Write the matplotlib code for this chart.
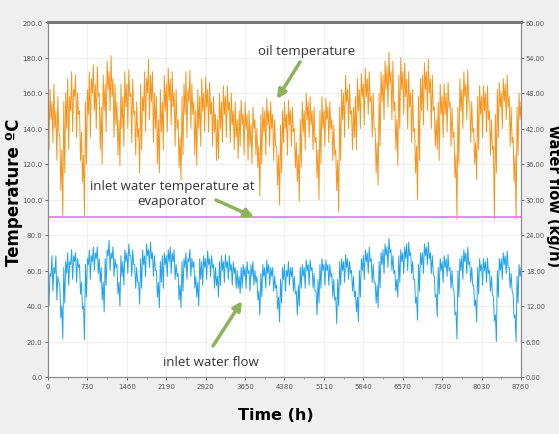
import numpy as np
import matplotlib
matplotlib.use("Agg")
import matplotlib.pyplot as plt
from matplotlib.ticker import MultipleLocator, FormatStrFormatter

# the hourly traces are read as a band: top (hi) and bottom (lo)
# of the trace, one pair every 36.5 h from 0 to 8760 h
step_h = 36.5

oil_hi = [
    150, 162, 155, 165, 150, 158, 135, 128, 155, 160,
    168, 158, 172, 162, 170, 160, 150, 138, 125, 155,
    162, 172, 168, 176, 165, 175, 160, 152, 170, 165,
    178, 172, 181, 168, 165, 155, 145, 165, 158, 172,
    165, 173, 160, 168, 150, 155, 140, 165, 158, 172,
    168, 179, 170, 172, 160, 158, 145, 162, 155, 170,
    165, 174, 168, 172, 160, 162, 145, 135, 158, 165,
    172, 162, 173, 165, 155, 150, 162, 158, 168, 160,
    169, 162, 166, 155, 158, 148, 145, 160, 155, 164,
    158, 164, 155, 160, 150, 155, 145, 150, 156, 148,
    155, 148, 150, 142, 152, 145, 140, 130, 148, 152,
    150, 157, 150, 155, 148, 145, 130, 125, 142, 150,
    155, 148, 156, 150, 152, 140, 132, 125, 145, 155,
    150, 160, 155, 158, 150, 152, 135, 128, 150, 158,
    150, 157, 152, 155, 145, 142, 128, 122, 152, 162,
    160, 170, 162, 165, 150, 152, 158, 168, 162, 171,
    165, 174, 168, 172, 158, 160, 140, 132, 160, 172,
    170, 178, 175, 183, 172, 178, 155, 145, 170, 180,
    172, 177, 168, 172, 160, 162, 140, 130, 158, 168,
    170, 177, 172, 179, 168, 170, 152, 145, 155, 165,
    158, 165, 160, 166, 155, 152, 138, 125, 152, 168,
    162, 172, 165, 173, 155, 155, 140, 132, 158, 164,
    158, 164, 160, 164, 150, 145, 130, 148, 162, 166,
    160, 168, 165, 170, 158, 152, 135, 125, 152, 160,
    155,
]

oil_lo = [
    128, 145, 132, 140, 122, 138, 105, 91, 115, 140,
    128, 150, 138, 158, 135, 148, 122, 110, 91, 120,
    148, 135, 160, 150, 140, 158, 128, 120, 150, 138,
    162, 150, 158, 135, 142, 125, 119, 140, 130, 152,
    140, 158, 132, 148, 125, 135, 115, 128, 150, 138,
    160, 145, 155, 132, 140, 120, 115, 138, 128, 150,
    138, 156, 142, 152, 130, 140, 118, 111, 125, 148,
    135, 155, 140, 148, 125, 119, 140, 130, 150, 138,
    152, 138, 148, 130, 138, 122, 123, 140, 132, 148,
    135, 150, 132, 142, 128, 135, 123, 130, 142, 125,
    140, 122, 130, 120, 140, 125, 118, 102, 120, 138,
    125, 142, 130, 140, 122, 130, 108, 97, 115, 132,
    140, 125, 142, 130, 138, 118, 110, 99, 118, 138,
    128, 145, 135, 142, 128, 132, 112, 100, 120, 140,
    130, 145, 132, 140, 122, 125, 105, 93, 122, 145,
    135, 155, 140, 148, 128, 135, 128, 150, 140, 158,
    142, 158, 148, 155, 135, 140, 115, 108, 130, 155,
    145, 162, 152, 165, 145, 150, 128, 119, 140, 162,
    148, 158, 140, 152, 132, 138, 115, 100, 122, 150,
    142, 162, 150, 160, 140, 150, 130, 128, 122, 148,
    135, 148, 138, 152, 130, 135, 112, 89, 120, 150,
    140, 158, 145, 155, 132, 138, 120, 111, 128, 148,
    135, 150, 138, 145, 125, 128, 89, 115, 135, 152,
    140, 155, 145, 152, 130, 132, 110, 89, 125, 145,
    135,
]

flow_hi = [
    19.5, 17.5, 20.5, 18.5, 20.5, 17.0, 15.5, 12.0, 18.5, 19.5,
    21.0, 19.5, 21.5, 20.5, 21.0, 20.0, 19.0, 16.0, 12.0, 19.0,
    20.0, 21.5, 20.5, 22.0, 21.0, 22.0, 20.0, 18.5, 16.0, 20.0,
    21.5, 23.1, 21.0, 22.0, 20.0, 19.0, 16.0, 20.5, 19.5, 21.5,
    21.0, 22.5, 20.5, 21.5, 19.0, 18.5, 16.0, 20.0, 21.5, 20.5,
    22.5, 21.5, 22.8, 21.0, 20.5, 18.0, 16.0, 19.5, 20.5, 21.0,
    20.5, 21.5, 22.0, 21.0, 21.5, 19.0, 17.5, 15.5, 19.5, 20.0,
    21.0, 20.0, 21.6, 20.0, 19.5, 17.0, 16.0, 20.0, 19.5, 20.5,
    20.0, 21.3, 20.0, 20.5, 19.0, 18.5, 17.0, 19.5, 20.5, 19.5,
    20.7, 19.5, 20.5, 19.0, 19.5, 18.5, 18.0, 17.0, 18.5, 19.0,
    18.5, 19.5, 18.0, 19.0, 19.5, 18.0, 17.0, 14.5, 17.5, 19.0,
    18.5, 19.8, 19.0, 18.5, 18.5, 17.0, 15.5, 13.5, 16.5, 18.5,
    19.0, 18.0, 19.5, 18.5, 18.5, 17.0, 14.5, 15.5, 18.5, 19.0,
    18.5, 19.8, 19.0, 19.8, 18.5, 17.5, 14.5, 16.5, 19.0, 20.0,
    19.0, 19.8, 19.0, 19.0, 17.5, 16.5, 13.5, 16.5, 19.5, 20.0,
    19.5, 20.7, 20.0, 19.5, 18.0, 17.0, 14.5, 13.5, 18.0, 20.0,
    20.5, 21.5, 21.0, 21.9, 20.0, 19.0, 16.0, 15.5, 19.5, 21.0,
    21.5, 22.5, 22.0, 23.4, 21.5, 20.5, 18.0, 16.5, 20.5, 21.5,
    21.0, 22.0, 22.5, 22.8, 21.0, 19.5, 16.5, 13.5, 19.0, 21.0,
    21.0, 22.5, 22.0, 22.8, 21.0, 20.5, 17.0, 14.0, 18.5, 20.0,
    19.5, 20.5, 20.0, 20.7, 18.5, 18.0, 14.5, 11.0, 18.0, 20.0,
    20.5, 21.5, 21.0, 21.9, 19.5, 18.5, 15.5, 13.0, 18.5, 20.0,
    19.0, 20.0, 19.5, 20.1, 18.0, 17.0, 13.5, 10.5, 18.0, 20.0,
    20.0, 21.0, 20.5, 21.3, 18.5, 17.5, 14.0, 10.5, 17.0, 19.0,
    18.5,
]

flow_lo = [
    12.0, 17.0, 14.5, 17.5, 13.0, 16.0, 10.0, 6.4, 12.5, 17.5,
    15.5, 19.0, 16.5, 19.5, 16.0, 18.5, 14.0, 11.5, 6.3, 13.5,
    19.0, 16.5, 19.5, 18.0, 20.0, 17.5, 16.0, 13.0, 11.0, 15.5,
    20.5, 18.0, 20.0, 17.0, 18.5, 14.0, 12.0, 17.0, 15.5, 19.5,
    17.5, 20.5, 17.0, 19.0, 15.0, 16.0, 12.3, 15.0, 19.0, 17.0,
    20.5, 18.5, 20.0, 17.0, 18.0, 13.5, 11.7, 16.0, 15.0, 19.0,
    17.0, 19.5, 17.5, 19.5, 16.5, 17.0, 13.0, 11.7, 14.5, 18.5,
    16.5, 19.5, 17.0, 18.5, 15.0, 13.5, 12.0, 16.5, 15.5, 18.5,
    16.5, 19.0, 17.0, 18.5, 15.0, 15.5, 13.5, 15.5, 18.0, 16.0,
    18.5, 16.5, 18.0, 15.5, 17.5, 15.0, 15.0, 14.1, 15.0, 17.0,
    15.0, 17.5, 14.5, 17.0, 15.5, 16.0, 13.0, 10.5, 13.5, 17.0,
    15.0, 17.5, 15.5, 17.0, 14.5, 15.0, 11.5, 9.3, 12.5, 16.5,
    14.5, 17.0, 15.5, 17.0, 14.5, 14.0, 10.5, 12.0, 15.0, 17.0,
    15.0, 18.0, 15.5, 18.0, 15.0, 14.5, 10.5, 12.5, 15.0, 18.0,
    15.5, 18.0, 15.5, 17.0, 13.5, 13.0, 9.0, 12.0, 15.5, 18.0,
    16.0, 18.5, 16.5, 17.5, 14.5, 13.5, 11.0, 9.3, 13.5, 18.0,
    16.5, 19.5, 17.5, 19.5, 16.0, 16.0, 12.5, 11.7, 15.0, 19.0,
    17.5, 20.5, 18.5, 21.0, 18.0, 17.5, 14.5, 13.5, 16.0, 19.5,
    17.5, 20.0, 18.0, 20.5, 17.5, 16.5, 12.5, 9.6, 14.5, 19.0,
    17.5, 20.5, 19.0, 20.0, 17.5, 17.5, 13.5, 10.2, 14.0, 18.0,
    16.0, 18.5, 17.0, 18.0, 15.0, 15.0, 10.5, 6.4, 13.5, 18.0,
    16.5, 19.5, 17.5, 19.0, 16.0, 15.5, 12.0, 9.3, 14.0, 18.0,
    15.5, 18.0, 16.0, 17.5, 14.5, 14.0, 9.5, 6.0, 13.5, 18.0,
    16.5, 19.0, 17.5, 18.5, 15.0, 14.5, 10.0, 6.0, 12.5, 17.0,
    15.0,
]

inlet_water_temp = 90.0

x_ticks = [0, 730, 1460, 2190, 2920, 3650, 4380, 5110, 5840, 6570, 7300, 8030, 8760]


def trace(hi, lo):
    # hi sample at the start of each step, lo sample half a step later
    t = np.arange(len(hi)) * step_h
    tt = np.column_stack((t, t + step_h / 2)).ravel()
    vv = np.column_stack((hi, lo)).ravel()
    return tt, vv


W, H = 559, 435
fig = plt.figure(figsize=(W / 100, H / 100), dpi=100, facecolor='#efefef')
ax = fig.add_axes([48 / W, 1 - 378 / H, 473 / W, 355 / H])
ax.set_facecolor('white')
ax2 = ax.twinx()

t_oil, v_oil = trace(oil_hi, oil_lo)
t_flow, v_flow = trace(flow_hi, flow_lo)
ax.plot(t_oil, v_oil, color='#f7961f', lw=0.7)
ax.axhline(inlet_water_temp, color='#f57af0', lw=1.3)
ax2.plot(t_flow, v_flow, color='#22a4ec', lw=0.7)

ax.set_xlim(0, 8760)
ax.set_ylim(0, 200)
ax2.set_ylim(0, 60)
ax.set_xticks(x_ticks)
ax.xaxis.set_minor_locator(MultipleLocator(365))
ax.yaxis.set_major_locator(MultipleLocator(20))
ax.yaxis.set_major_formatter(FormatStrFormatter('%.1f'))
ax2.yaxis.set_major_locator(MultipleLocator(6))
ax2.yaxis.set_major_formatter(FormatStrFormatter('%.2f'))
ax.grid(True, color='#ececec', lw=0.6)
ax.set_axisbelow(True)

for a in (ax, ax2):
    a.tick_params(labelsize=5, colors='#555555', length=2, width=0.6, pad=2)
    a.tick_params(which='minor', length=1.5, width=0.5, color='#888888')
    for s in a.spines.values():
        s.set_color('#8a8a8a')
        s.set_linewidth(0.8)
    a.spines['top'].set_color('#777777')
    a.spines['top'].set_linewidth(2)
ax2.tick_params(labelsize=4.8, pad=1.5)

lab = dict(fontweight='bold', color='black', family='DejaVu Sans')
fig.text(14 / W, 1 - 192 / H, 'Temperature ºC', rotation=90, ha='center', va='center',
         fontsize=12, **lab)
fig.text(553 / W, 1 - 196 / H, 'water flow (kg/h)', rotation=270, ha='center', va='center',
         fontsize=10.5, **lab)
fig.text(276 / W, 1 - 416 / H, 'Time (h)', ha='center', va='center', fontsize=11.5, **lab)

green = '#8db25a'
arr = dict(arrowstyle='-|>', color=green, lw=2.5, mutation_scale=13, shrinkA=0, shrinkB=0)
note = dict(fontsize=9.5, color='#333333', family='Open Sans', ha='center', va='center')

ax.text(4797, 183.7, 'oil temperature', **note)
ax.annotate('', xy=(4241, 156.6), xytext=(4667, 177.5), arrowprops=arr)

ax.text(2296, 103.7, 'inlet water temperature at\nevaporator', linespacing=1.2, **note)
ax.annotate('', xy=(3815, 90.1), xytext=(3111, 99.7), arrowprops=arr)

ax.text(3019, 9.0, 'inlet water flow', **note)
ax.annotate('', xy=(3593, 42.8), xytext=(3056, 17.5), arrowprops=arr)

fig.savefig('out.png', dpi=100, facecolor=fig.get_facecolor())
